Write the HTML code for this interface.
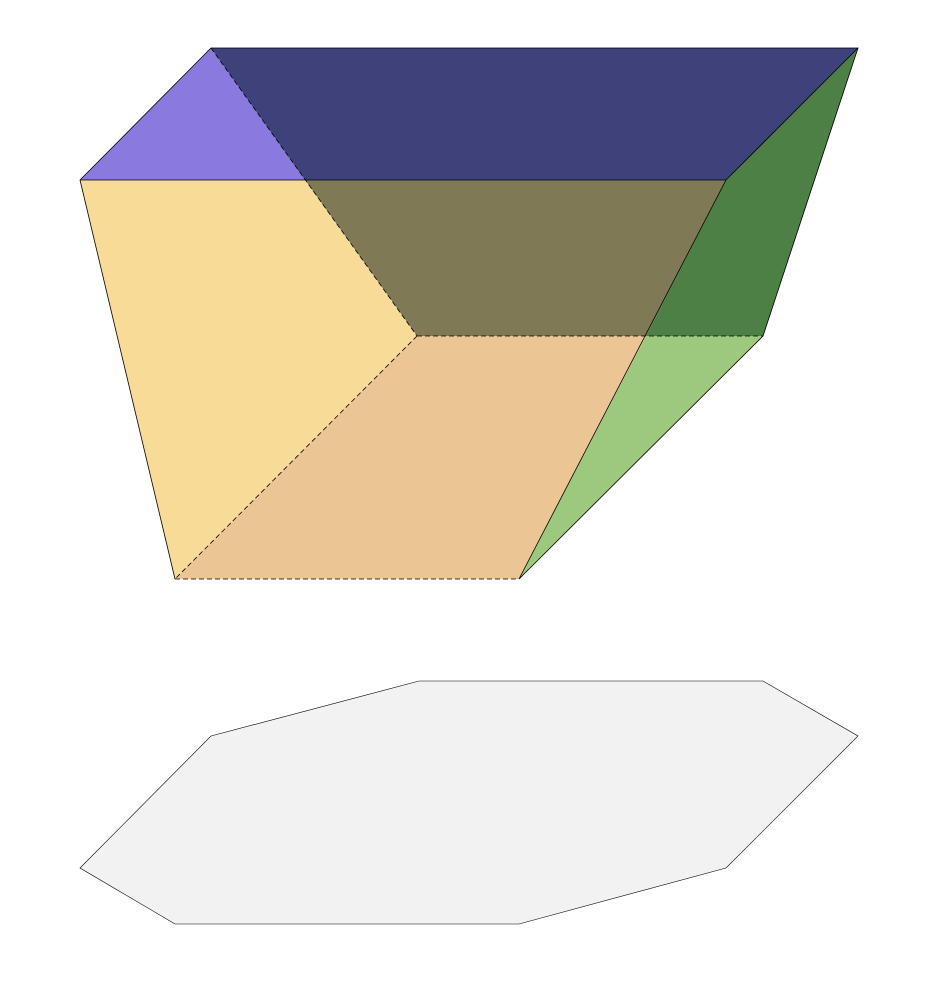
<!DOCTYPE html>
<html><head><meta charset="utf-8"><style>html,body{margin:0;padding:0;background:#fff}svg{display:block}</style></head>
<body>
<svg width="950" height="994" viewBox="0 0 950 994">
  <g stroke="none">
    <polygon points="211,48 80,180 305,180" fill="#8a7ae0"/>
    <polygon points="211,48 858,48 726,180 305,180" fill="#3f427a"/>
    <polygon points="305,180 726,180 646,336 417,336" fill="#7f7a55"/>
    <polygon points="858,48 726,180 646,336 763,336" fill="#4d8045"/>
    <polygon points="646,336 763,336 519,579" fill="#9dc97e"/>
    <polygon points="80,180 305,180 417,336 175,579" fill="#f9db98"/>
    <polygon points="417,336 646,336 519,579 175,579" fill="#ebc594"/>
  </g>
  <g stroke="#000" stroke-width="0.8" fill="none">
    <polyline points="80,180 211,48 858,48 763,336 519,579" />
    <line x1="80" y1="180" x2="726" y2="180"/>
    <line x1="726" y1="180" x2="858" y2="48"/>
    <line x1="726" y1="180" x2="519" y2="579"/>
    <line x1="80" y1="180" x2="175" y2="579"/>
  </g>
  <g stroke="#000" stroke-width="0.8" stroke-dasharray="5,3" fill="none">
    <line x1="211" y1="48" x2="417" y2="336"/>
    <line x1="417" y1="336" x2="763" y2="336"/>
    <line x1="417" y1="336" x2="175" y2="579"/>
    <line x1="175" y1="579" x2="519" y2="579"/>
  </g>
  <polygon points="80,868 211,736 419,681 763,681 858,736 726,868 519,924 175,924" fill="#f2f2f2" stroke="#000" stroke-width="0.6"/>
</svg>
</body></html>
